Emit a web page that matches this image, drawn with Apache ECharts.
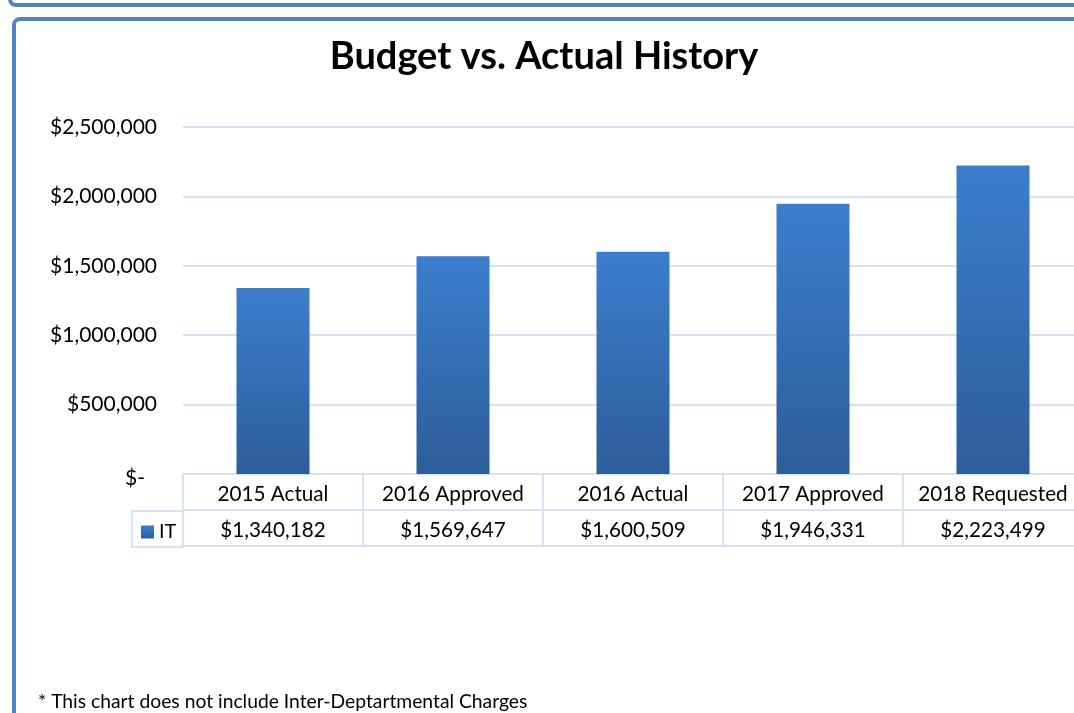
<!DOCTYPE html>
<html>
<head>
<meta charset="utf-8">
<script src="https://cdn.jsdelivr.net/npm/echarts@6/dist/echarts.min.js"></script>
<style>
html,body{margin:0;padding:0;background:#fff;overflow:hidden;width:1074px;height:713px;}
#chart{width:1100px;height:713px;}
</style>
</head>
<body>
<div id="chart"></div>
<script>
const categories = ['2015 Actual', '2016 Approved', '2016 Actual', '2017 Approved', '2018 Requested'];
const itValues = [1340182, 1569647, 1600509, 1946331, 2223499];
const seriesName = 'IT';
const yTicks = [0, 500000, 1000000, 1500000, 2000000, 2500000];

const FONT = 'Lato, "Liberation Sans", sans-serif';
const LINE = '#d7e2f2';
const BORDER = '#5283c4';

function money(v) {
  return '$' + String(v).replace(/\B(?=(\d{3})+(?!\d))/g, ',');
}

const chart = echarts.init(document.getElementById('chart'), null, {renderer: 'canvas'});
chart.setOption({
  animation: false,
  backgroundColor: '#fff',
  title: {
    text: 'Budget vs. Actual History',
    left: 544, top: 33, textAlign: 'center',
    textStyle: {fontFamily: FONT, fontWeight: 'bold', fontSize: 38, color: '#000'}
  },
  legend: {
    data: [seriesName],
    left: 141, top: 522, padding: 0,
    icon: 'rect', itemWidth: 13, itemHeight: 13, itemGap: 5,
    textStyle: {fontFamily: FONT, fontSize: 20, color: '#000', padding: [2, 0, 0, 0]},
    selectedMode: false
  },
  grid: {left: 183, top: 127, width: 900, height: 347},
  xAxis: [
    {
      type: 'category', data: categories, position: 'bottom',
      axisLine: {show: true, lineStyle: {color: LINE, width: 2}},
      axisTick: {show: true, length: 72, lineStyle: {color: LINE, width: 2}},
      axisLabel: {margin: 8, fontFamily: FONT, fontSize: 20.7, color: '#000', lineHeight: 24, interval: 0}
    },
    {
      type: 'category', data: itValues.map(money), position: 'bottom', offset: 36,
      axisLine: {show: true, lineStyle: {color: LINE, width: 2}},
      axisTick: {show: false},
      axisLabel: {margin: 8, fontFamily: FONT, fontSize: 20.7, color: '#000', lineHeight: 24, interval: 0}
    },
    {
      type: 'category', data: categories, position: 'bottom', offset: 72,
      axisLine: {show: true, lineStyle: {color: LINE, width: 2}},
      axisTick: {show: false}, axisLabel: {show: false}
    }
  ],
  yAxis: {
    type: 'value', min: yTicks[0], max: yTicks[yTicks.length - 1], interval: yTicks[1] - yTicks[0],
    axisLine: {show: false}, axisTick: {show: false},
    splitLine: {lineStyle: {color: LINE, width: 2}},
    axisLabel: {
      margin: 26, fontFamily: FONT, fontSize: 21, color: '#000',
      formatter: function (v) { return v === 0 ? '{z|$-}' : money(v); },
      rich: {z: {fontFamily: FONT, fontSize: 21, color: '#000', padding: [8, 12, 0, 0]}}
    }
  },
  series: [{
    name: seriesName, type: 'bar', xAxisIndex: 0, data: itValues, barWidth: 73,
    itemStyle: {
      color: new echarts.graphic.LinearGradient(0, 0, 0, 1, [
        {offset: 0, color: '#3b7ecd'},
        {offset: 1, color: '#2e5d9b'}
      ]),
      shadowBlur: 5, shadowOffsetX: 2, shadowOffsetY: 1, shadowColor: 'rgba(0,0,0,0.3)'
    }
  }],
  graphic: [
    {type: 'rect', shape: {x: 10, y: -200, width: 1200, height: 205, r: 6},
     style: {fill: 'none', stroke: BORDER, lineWidth: 4}, z: 10},
    {type: 'rect', shape: {x: 14, y: 19, width: 1200, height: 900, r: 6},
     style: {fill: 'none', stroke: BORDER, lineWidth: 4}, z: 10},
    {type: 'rect', shape: {x: 132, y: 511, width: 51, height: 36},
     style: {fill: 'none', stroke: LINE, lineWidth: 2}, z: 1},
    {type: 'text', left: 38, top: 692,
     style: {text: '* This chart does not include Inter-Deptartmental Charges', fontFamily: FONT, fontSize: 19.3, fill: '#000'}}
  ]
});
chart.setOption({title: {left: 539}});
</script>
</body>
</html>
